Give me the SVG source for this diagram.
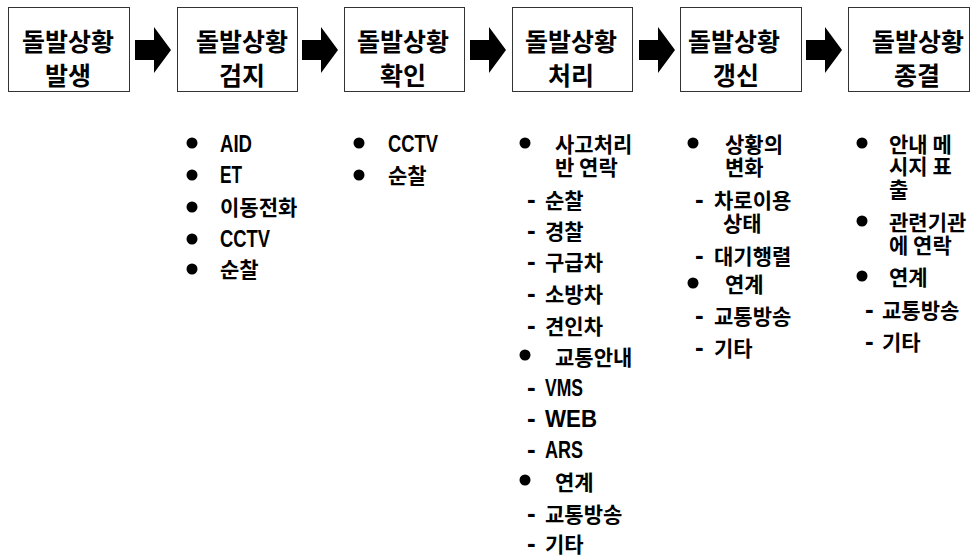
<svg xmlns="http://www.w3.org/2000/svg" width="972" height="557" viewBox="0 0 972 557">
<style>
.box{fill:#fff;stroke:#333;stroke-width:1}
.ttl{font-family:"Noto Sans CJK KR","Noto Sans",sans-serif;font-size:25px;font-weight:bold;text-anchor:middle;fill:#000}
.t{font-family:"Noto Sans CJK KR","Noto Sans",sans-serif;font-size:21px;font-weight:bold;fill:#000}
.l{font-family:"Liberation Sans",Arial,sans-serif;font-size:23px;font-weight:bold}
.d{font-family:"Liberation Sans",Arial,sans-serif;font-size:26px;font-weight:bold}
.bul{fill:#000}
.arr{fill:#000}
</style>
<defs>
<path id="arrow" d="M0,-10 H19 V-23 L36,0 L19,23 V10 H0 Z"/>
</defs>
<rect width="972" height="557" fill="#fff"/>

<g id="node-occur">
<rect class="box" x="8.5" y="7.5" width="121" height="84"/>
<text class="ttl" x="68" y="51">돌발상황</text>
<text class="ttl" x="68" y="85">발생</text>
</g>
<g id="node-detect">
<rect class="box" x="177.5" y="7.5" width="120" height="84"/>
<text class="ttl" x="242" y="51">돌발상황</text>
<text class="ttl" x="242" y="85">검지</text>
</g>
<g id="node-confirm">
<rect class="box" x="344.5" y="7.5" width="120" height="84"/>
<text class="ttl" x="403" y="51">돌발상황</text>
<text class="ttl" x="403" y="85">확인</text>
</g>
<g id="node-handle">
<rect class="box" x="512.5" y="7.5" width="120" height="84"/>
<text class="ttl" x="571" y="51">돌발상황</text>
<text class="ttl" x="571" y="85">처리</text>
</g>
<g id="node-update">
<rect class="box" x="680.5" y="7.5" width="121" height="84"/>
<text class="ttl" x="734" y="51">돌발상황</text>
<text class="ttl" x="736" y="85">갱신</text>
</g>
<g id="node-end">
<rect class="box" x="848.5" y="7.5" width="121" height="84"/>
<text class="ttl" x="918" y="51">돌발상황</text>
<text class="ttl" x="917" y="85">종결</text>
</g>

<g id="connectors">
<use href="#arrow" class="arr" transform="translate(135,50)"/>
<use href="#arrow" class="arr" transform="translate(302,50)"/>
<use href="#arrow" class="arr" transform="translate(470,50)"/>
<use href="#arrow" class="arr" transform="translate(639,50)"/>
<use href="#arrow" class="arr" transform="translate(806,50)"/>
</g>

<g id="list-detect">
<circle class="bul" cx="192" cy="143" r="5.5"/>
<circle class="bul" cx="192" cy="175" r="5.5"/>
<circle class="bul" cx="192" cy="207" r="5.5"/>
<circle class="bul" cx="192" cy="239" r="5.5"/>
<circle class="bul" cx="192" cy="269" r="5.5"/>
<text class="l" x="220" y="152" textLength="32" lengthAdjust="spacingAndGlyphs">AID</text>
<text class="l" x="220" y="183" textLength="22" lengthAdjust="spacingAndGlyphs">ET</text>
<text class="t" x="220" y="215">이동전화</text>
<text class="l" x="220" y="247" textLength="50" lengthAdjust="spacingAndGlyphs">CCTV</text>
<text class="t" x="220" y="277">순찰</text>
</g>

<g id="list-confirm">
<circle class="bul" cx="359" cy="143" r="5.5"/>
<circle class="bul" cx="359" cy="175" r="5.5"/>
<text class="l" x="388" y="152" textLength="50" lengthAdjust="spacingAndGlyphs">CCTV</text>
<text class="t" x="388" y="183">순찰</text>
</g>

<g id="list-handle">
<circle class="bul" cx="525" cy="143" r="5.5"/>
<circle class="bul" cx="525" cy="355" r="5.5"/>
<circle class="bul" cx="525" cy="480" r="5.5"/>
<text class="t" x="555" y="152">사고처리</text>
<text class="t" x="555" y="175">반 연락</text>
<text class="t" y="208"><tspan class="d" x="527">-</tspan><tspan x="545">순찰</tspan></text>
<text class="t" y="239"><tspan class="d" x="527">-</tspan><tspan x="545">경찰</tspan></text>
<text class="t" y="270"><tspan class="d" x="527">-</tspan><tspan x="545">구급차</tspan></text>
<text class="t" y="302"><tspan class="d" x="527">-</tspan><tspan x="545">소방차</tspan></text>
<text class="t" y="334"><tspan class="d" x="527">-</tspan><tspan x="545">견인차</tspan></text>
<text class="t" x="555" y="365">교통안내</text>
<text class="t" y="396"><tspan class="d" x="527">-</tspan><tspan class="l" x="545" textLength="38" lengthAdjust="spacingAndGlyphs">VMS</tspan></text>
<text class="t" y="427"><tspan class="d" x="527">-</tspan><tspan class="l" x="545" textLength="52" lengthAdjust="spacingAndGlyphs">WEB</tspan></text>
<text class="t" y="458"><tspan class="d" x="527">-</tspan><tspan class="l" x="545" textLength="38" lengthAdjust="spacingAndGlyphs">ARS</tspan></text>
<text class="t" x="555" y="490">연계</text>
<text class="t" y="522"><tspan class="d" x="527">-</tspan><tspan x="545">교통방송</tspan></text>
<text class="t" y="552"><tspan class="d" x="527">-</tspan><tspan x="545">기타</tspan></text>
</g>

<g id="list-update">
<circle class="bul" cx="693" cy="143" r="5.5"/>
<circle class="bul" cx="693" cy="283" r="5.5"/>
<text class="t" x="725" y="152">상황의</text>
<text class="t" x="725" y="175">변화</text>
<text class="t" y="208"><tspan class="d" x="695">-</tspan><tspan x="714">차로이용</tspan></text>
<text class="t" x="723" y="231">상태</text>
<text class="t" y="264"><tspan class="d" x="695">-</tspan><tspan x="714">대기행렬</tspan></text>
<text class="t" x="725" y="292">연계</text>
<text class="t" y="324"><tspan class="d" x="695">-</tspan><tspan x="714">교통방송</tspan></text>
<text class="t" y="356"><tspan class="d" x="695">-</tspan><tspan x="714">기타</tspan></text>
</g>

<g id="list-end">
<circle class="bul" cx="862" cy="143" r="5.5"/>
<circle class="bul" cx="862" cy="221" r="5.5"/>
<circle class="bul" cx="862" cy="276" r="5.5"/>
<text class="t" x="889" y="152">안내 메</text>
<text class="t" x="889" y="174">시지 표</text>
<text class="t" x="889" y="197">출</text>
<text class="t" x="889" y="230">관련기관</text>
<text class="t" x="889" y="253">에 연락</text>
<text class="t" x="889" y="285">연계</text>
<text class="t" y="318"><tspan class="d" x="865">-</tspan><tspan x="882">교통방송</tspan></text>
<text class="t" y="350"><tspan class="d" x="865">-</tspan><tspan x="882">기타</tspan></text>
</g>
</svg>
